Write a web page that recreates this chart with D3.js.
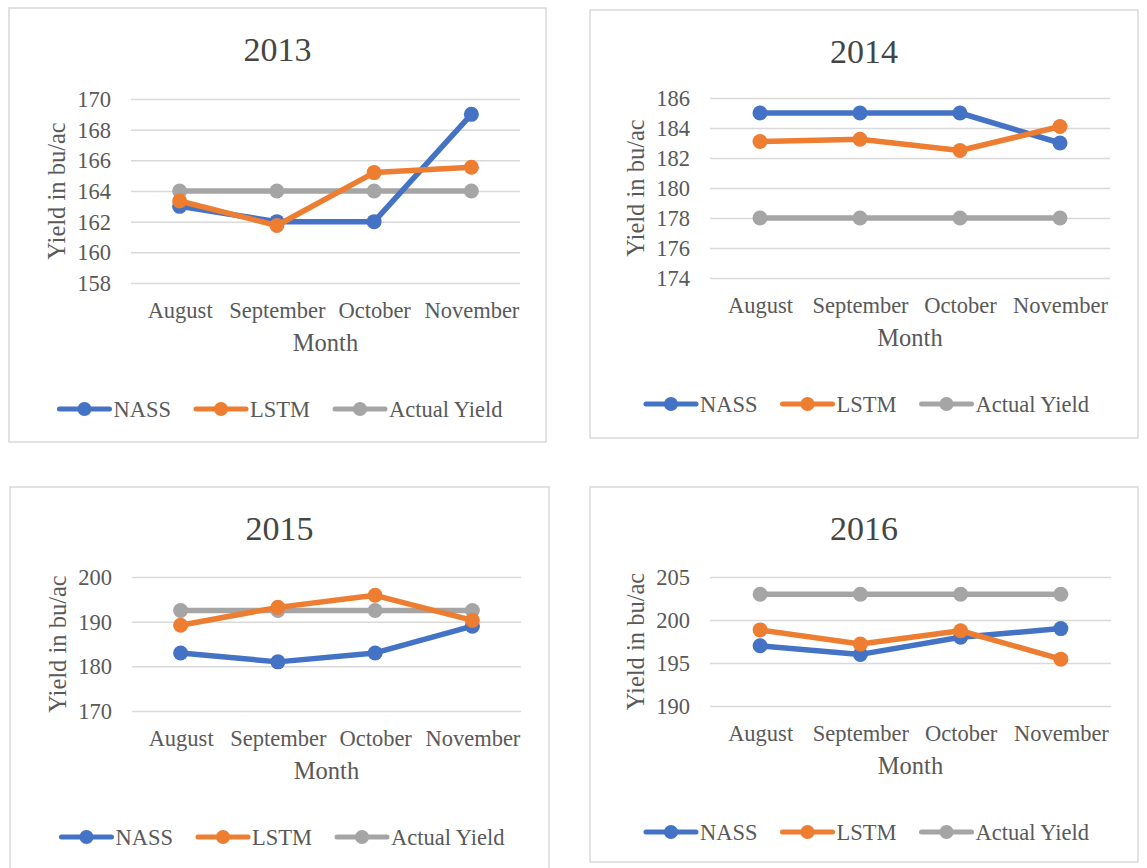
<html>
  <head>
    <meta charset='utf-8'>
    <script src='https://d3js.org/d3.v7.min.js'></script>
    <style>
      body { margin: 0; background: #fff; }
      text { font-family: 'Liberation Serif', 'Times New Roman', serif; fill: #595959; }
    </style>
  </head>
  <body>
    <div id='charts'></div>
    <script>
        // data
        const years = ['2013', '2014', '2015', '2016'];
        const months = ['August', 'September', 'October', 'November'];
        const seriesNames = ['NASS', 'LSTM', 'Actual Yield'];
        const seriesColors = ['#4472c4', '#ed7d31', '#a5a5a5'];

        const nassYield = [
          [163, 162, 162, 169],
          [185, 185, 185, 183],
          [183, 181, 183, 189],
          [197, 196, 198, 199]
        ];
        const lstmYield = [
          [163.35, 161.75, 165.2, 165.55],
          [183.1, 183.25, 182.5, 184.1],
          [189.2, 193.2, 195.9, 190.3],
          [198.85, 197.2, 198.75, 195.45]
        ];
        const actualYield = [
          [164, 164, 164, 164],
          [178, 178, 178, 178],
          [192.5, 192.5, 192.5, 192.5],
          [203, 203, 203, 203]
        ];
        const yTicks = [
          [158, 160, 162, 164, 166, 168, 170],
          [174, 176, 178, 180, 182, 184, 186],
          [170, 180, 190, 200],
          [190, 195, 200, 205]
        ];

        // panel frames and plot areas (page pixels)
        const frames = [
          { x0: 9,   y0: 8,   x1: 546,  y1: 442, left: 131, top: 99,  right: 520,  bottom: 283 },
          { x0: 590, y0: 10,  x1: 1138, y1: 438, left: 710, top: 98,  right: 1110, bottom: 278 },
          { x0: 10,  y0: 487, x1: 549,  y1: 890, left: 132, top: 577, right: 521,  bottom: 711 },
          { x0: 590, y0: 487, x1: 1138, y1: 862, left: 710, top: 577, right: 1111, bottom: 706 }
        ];

        var svg = d3.select('#charts').append('svg')
                    .attr('width', 1147)
                    .attr('height', 868);

        function draw_panel(i) {
          const f = frames[i];
          const g = svg.append('g');
          const cx = (f.x0 + f.x1) / 2;

          g.append('rect')
           .attr('x', f.x0).attr('y', f.y0)
           .attr('width', f.x1 - f.x0).attr('height', f.y1 - f.y0)
           .attr('fill', '#fff')
           .attr('stroke', '#d9d9d9')
           .attr('stroke-width', 1.5);

          const x = d3.scalePoint().domain(months).range([f.left, f.right]).padding(0.5);
          const ticks = yTicks[i];
          const y = d3.scaleLinear()
                      .domain([ticks[0], ticks[ticks.length - 1]])
                      .range([f.bottom, f.top]);

          // gridlines + tick labels
          const yAxis = d3.axisLeft(y).tickValues(ticks)
                          .tickSize(-(f.right - f.left)).tickPadding(20);
          const ax = g.append('g')
                      .attr('transform', `translate(${f.left},0)`)
                      .call(yAxis);
          ax.select('.domain').remove();
          ax.selectAll('line').attr('stroke', '#d9d9d9').attr('stroke-width', 1.5);
          ax.selectAll('text')
            .attr('font-size', 22.5)
            .attr('fill', '#595959')
            .attr('dy', '0.34em')
            .style('font-family', "'Liberation Serif', serif");

          const xAxis = d3.axisBottom(x).tickSize(0).tickPadding(0);
          const bx = g.append('g')
                      .attr('transform', `translate(0,${f.bottom + 27})`)
                      .call(xAxis);
          bx.select('.domain').remove();
          bx.selectAll('text')
            .attr('font-size', 22.5)
            .attr('fill', '#595959')
            .attr('dy', '0.34em')
            .style('font-family', "'Liberation Serif', serif");

          // titles
          g.append('text')
           .attr('x', cx).attr('y', f.y0 + 41)
           .attr('text-anchor', 'middle')
           .attr('dy', '0.34em')
           .attr('font-size', 34)
           .style('fill', '#454545')
           .text(years[i]);

          g.append('text')
           .attr('x', (f.left + f.right) / 2).attr('y', f.bottom + 60)
           .attr('text-anchor', 'middle')
           .attr('dy', '0.34em')
           .attr('font-size', 24.5)
           .text('Month');

          g.append('text')
           .attr('transform', `translate(${f.left - 74},${(f.top + f.bottom) / 2}) rotate(-90)`)
           .attr('text-anchor', 'middle')
           .attr('dy', '0.34em')
           .attr('font-size', 24.5)
           .text('Yield in bu/ac');

          // series
          const seriesData = [nassYield[i], lstmYield[i], actualYield[i]];
          const line = d3.line().x((d, j) => x(months[j])).y(d => y(d));
          [2, 0, 1].forEach(s => {
            g.append('path')
             .datum(seriesData[s])
             .attr('d', line)
             .attr('fill', 'none')
             .attr('stroke', seriesColors[s])
             .attr('stroke-width', 5.5)
             .attr('stroke-linejoin', 'round');
            g.selectAll(null)
             .data(seriesData[s])
             .enter().append('circle')
             .attr('cx', (d, j) => x(months[j]))
             .attr('cy', d => y(d))
             .attr('r', 7.5)
             .attr('fill', seriesColors[s]);
          });

          // legend
          const ly = f.bottom + 126;
          const leg = g.append('g');
          let pos = 0;
          seriesNames.forEach((name, s) => {
            const item = leg.append('g').attr('transform', `translate(${pos},0)`);
            item.append('line')
                .attr('x1', 1).attr('x2', 51).attr('y1', ly).attr('y2', ly)
                .attr('stroke', seriesColors[s]).attr('stroke-width', 5)
                .attr('stroke-linecap', 'round');
            item.append('circle')
                .attr('cx', 26).attr('cy', ly).attr('r', 7)
                .attr('fill', seriesColors[s]);
            const t = item.append('text')
                .attr('x', 55).attr('y', ly)
                .attr('dy', '0.34em')
                .attr('font-size', 22.5)
                .text(name);
            pos += 55 + t.node().getComputedTextLength() + 24;
          });
          const total = pos - 24;
          leg.attr('transform', `translate(${cx + 3 - total / 2},0)`);
        }

        years.forEach((yr, i) => draw_panel(i));
    </script>
  </body>
</html>
